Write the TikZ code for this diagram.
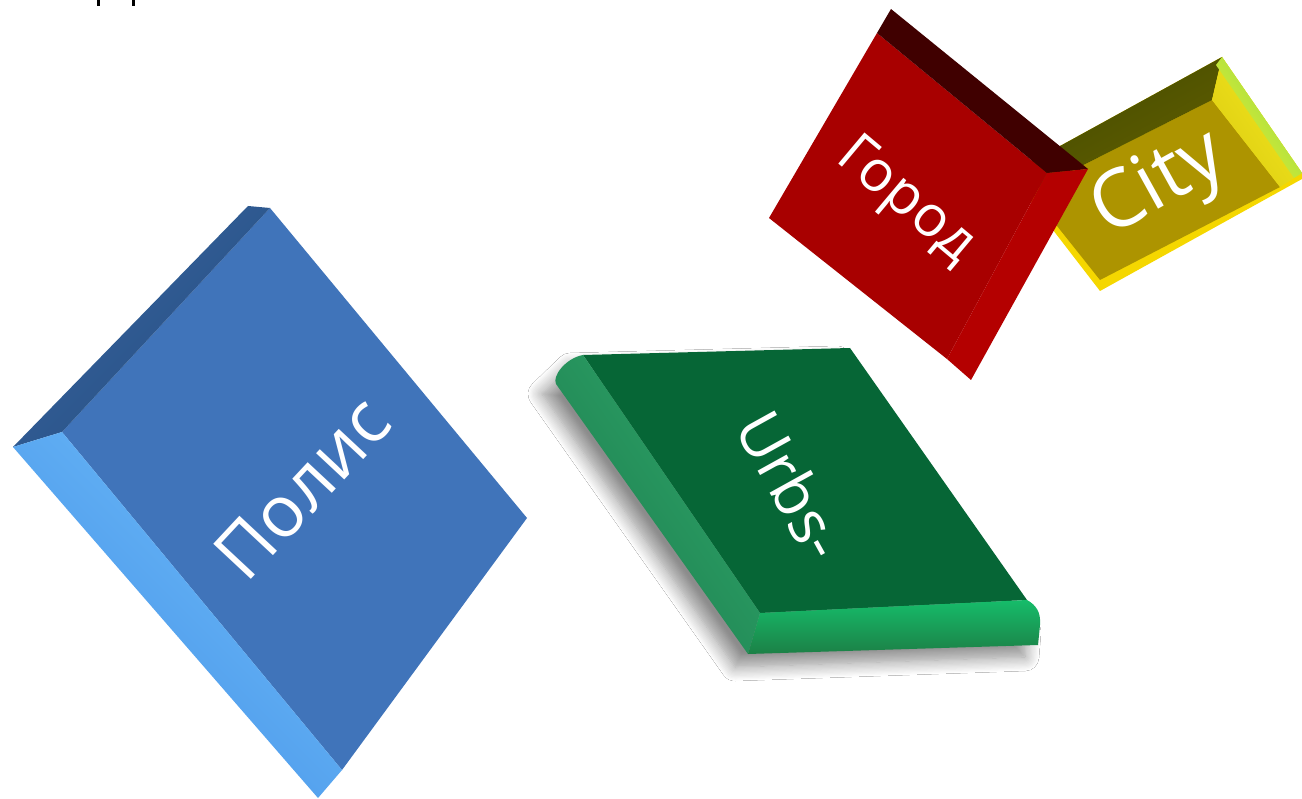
\documentclass[tikz,border=0pt]{standalone}
\usepackage{fontspec}
\setmainfont{Open Sans}
\usetikzlibrary{shadows.blur}
\definecolor{bface}{RGB}{64,116,186}
\definecolor{bdarkout}{RGB}{55,100,160}
\definecolor{bdarkin}{RGB}{38,78,128}
\definecolor{blightout}{RGB}{70,145,230}
\definecolor{blightin}{RGB}{108,188,250}
\definecolor{gface}{RGB}{6,102,54}
\definecolor{gleftin}{RGB}{45,165,105}
\definecolor{gleftmid}{RGB}{62,188,128}
\definecolor{gleftout}{RGB}{30,125,78}
\definecolor{gbottop}{RGB}{22,188,106}
\definecolor{gbotbot}{RGB}{28,128,70}
\definecolor{rface}{RGB}{168,0,0}
\definecolor{rdark}{RGB}{64,0,0}
\definecolor{rsidein}{RGB}{182,0,0}
\definecolor{rsidemid}{RGB}{208,8,8}
\definecolor{rsideout}{RGB}{178,0,0}
\definecolor{yface}{RGB}{173,148,0}
\definecolor{ytopout}{RGB}{68,76,0}
\definecolor{ytopin}{RGB}{98,94,0}
\definecolor{yrightout}{RGB}{135,225,90}
\definecolor{yrightmid}{RGB}{242,232,30}
\definecolor{yrightin}{RGB}{222,205,18}
\definecolor{yedge}{RGB}{245,215,0}
\begin{document}
\begin{tikzpicture}[x=1pt,y=-1pt,
  tiletext/.style={text=white,inner sep=0pt}]
\useasboundingbox (0,0) rectangle (1302,799);
\fill[white] (0,0) rectangle (1302,799);
% fragments at the top edge
\fill[black] (97,0) rectangle (100,6);
\fill[black] (132,0) rectangle (135,6);

% ---------- blue tile ----------
\fill[bface] (270,208) -- (527,518) -- (342,770) -- (62,432) -- cycle;
\shade[top color=bdarkout, bottom color=bdarkin, shading angle=45]
  (248,206) -- (270,208) -- (62,432) -- (13,447) -- cycle;
\shade[top color=blightin, bottom color=blightout, shading angle=-45]
  (13,447) -- (62,432) -- (342,770) -- (318,798) -- cycle;
\node[tiletext, font=\fontsize{72}{76}\selectfont, rotate=47] (polis) at (302,488) {Полис};

% ---------- green tile ----------
\path[blur shadow={shadow xshift=-13pt, shadow yshift=-12pt, shadow blur radius=14pt, shadow blur steps=12, shadow opacity=45}]
  (583,355) -- (850,348) -- (1027,600) -- (1040,620) -- (1038,645) -- (748,655) -- (555,382) -- cycle;
\fill[gface] (583,355) -- (850,348) -- (1027,600) -- (760,613) -- cycle;
\shade[top color=gleftin, middle color=gleftmid, bottom color=gleftout, shading angle=-55]
  (583,355) -- (760,613) -- (748,654) -- (556,384) .. controls (552,376) and (566,358) .. (583,355) -- cycle;
\shade[top color=gbottop, bottom color=gbotbot]
  (760,613) -- (1027,600) .. controls (1036,605) and (1041,612) .. (1040,625) -- (1038,645) -- (748,654) -- cycle;
\node[tiletext, font=\fontsize{62}{66}\selectfont, rotate=-61] (urbs) at (792,485) {Urbs-};

% ---------- yellow tile ----------
\fill[yedge] (1020,168) -- (1222,57) -- (1302,173) -- (1302,179) -- (1100,291) -- (1016,182) -- cycle;
\fill[yface] (1030,192) -- (1212,100) -- (1280,187) -- (1100,280) -- cycle;
\shade[top color=ytopout, bottom color=ytopin, shading angle=29]
  (1020,168) -- (1222,57) -- (1212,100) -- (1030,192) -- cycle;
\shade[top color=yrightmid, bottom color=yrightin, shading angle=-55]
  (1222,57) -- (1302,173) -- (1280,187) -- (1212,100) -- cycle;
\shade[top color=yrightout, bottom color=yrightmid, shading angle=-55]
  (1222,57) -- (1302,173) -- (1294,178) -- (1216,65) -- cycle;
\node[tiletext, font=\fontsize{80}{84}\selectfont, rotate=29] (city) at (1160,186) {City};

% ---------- red tile ----------
\fill[rface] (877,33) -- (1047,173) -- (947,359) -- (769,218) -- cycle;
\fill[rdark] (877,33) -- (891,9) -- (1088,169) -- (1047,173) -- cycle;
\shade[top color=rsidein, middle color=rsidemid, bottom color=rsideout, shading angle=61]
  (1047,173) -- (1088,169) -- (971,380) -- (947,359) -- cycle;
\node[tiletext, font=\fontsize{57}{60}\selectfont, rotate=-40] (gorod) at (905,202) {Город};
\end{tikzpicture}
\end{document}
